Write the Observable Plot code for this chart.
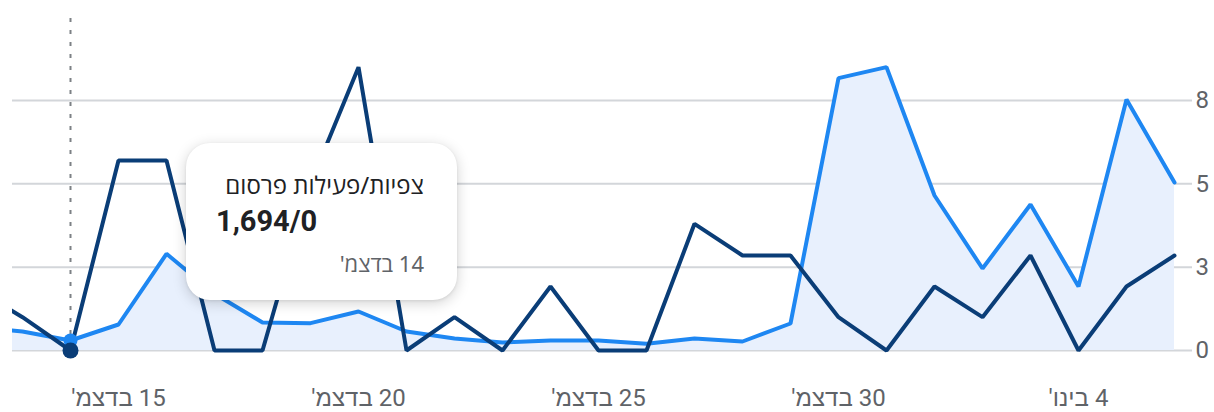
<!DOCTYPE html>
<html>
<head>
<meta charset="utf-8">
<script src="https://cdn.jsdelivr.net/npm/d3@7"></script>
<script src="https://cdn.jsdelivr.net/npm/@observablehq/plot@0.6"></script>
<style>
  html, body { margin: 0; padding: 0; background: #fff; }
  #wrap { position: relative; width: 1214px; height: 412px; overflow: hidden; }
  #wrap svg { background: linear-gradient(#e3e5e8, #e3e5e8) no-repeat 11px 0 / 2px 100%; }
  g[aria-label="x-axis tick label"] text { direction: rtl; unicode-bidi: embed; }
  .tip {
    position: absolute; box-sizing: border-box; background: #fff;
    border-radius: 24px; box-shadow: 0 3px 14px rgba(0,0,0,0.18), 0 1px 3px rgba(0,0,0,0.08);
    padding: 28px 33px 0 30px; direction: rtl;
    font-family: "Noto Sans", "Open Sans", Roboto, "Liberation Sans", sans-serif;
  }
  .tip .t { font-size: 24px; color: #202124; line-height: 28px; white-space: nowrap; }
  .tip .v { font-size: 29px; font-weight: 700; color: #202124; direction: ltr; text-align: left; line-height: 36px; margin-top: 4px; font-family: Roboto, "Noto Sans", sans-serif; }
  .tip .d { font-size: 22px; color: #5f6368; line-height: 28px; margin-top: 10px; }
</style>
</head>
<body>
<div id="wrap"></div>
<script>
const dates = ["2023-12-12","2023-12-13","2023-12-14","2023-12-15","2023-12-16","2023-12-17","2023-12-18","2023-12-19","2023-12-20","2023-12-21","2023-12-22","2023-12-23","2023-12-24","2023-12-25","2023-12-26","2023-12-27","2023-12-28","2023-12-29","2023-12-30","2023-12-31","2024-01-01","2024-01-02","2024-01-03","2024-01-04","2024-01-05","2024-01-06"];
const views = [0.72,0.57,0.3,0.78,2.9,1.7,0.84,0.82,1.17,0.57,0.36,0.24,0.3,0.3,0.2,0.36,0.27,0.81,8.17,8.5,4.65,2.46,4.38,1.92,7.53,5.04];
const activity = [1.86,1.0,0,5.7,5.7,0,0,5.0,8.5,0,1.0,0,1.92,0,0,3.8,2.85,2.85,1.0,0,1.92,1.0,2.85,0,1.92,2.85];
const xTickDates = ["2023-12-15","2023-12-20","2023-12-25","2023-12-30","2024-01-04"];
const xTickLabels = ["15 בדצמ'","20 בדצמ'","25 בדצמ'","30 בדצמ'","4 בינו'"];
const yTicks = [0, 2.5, 5, 7.5];
const yTickLabels = ["0","3","5","8"];
const focusDate = "2023-12-14";
const tipTitle = "צפיות/פעילות פרסום";
const tipValue = "1,694/0";
const tipDate = "14 בדצמ'";

const parse = d3.utcParse("%Y-%m-%d");
const data = dates.map((d, i) => ({date: parse(d), views: views[i], activity: activity[i]}));
const xTicks = xTickDates.map(parse);
const focus = data.find(d => +d.date === +parse(focusDate));

const blue = "#1e87f2";
const navy = "#0a3d77";

const plot = Plot.plot({
  width: 1214,
  height: 412,
  marginLeft: 12,
  marginRight: 22,
  marginTop: 18,
  marginBottom: 58,
  style: {fontFamily: "Roboto, 'Liberation Sans', sans-serif", background: "transparent"},
  x: {type: "utc", domain: [parse("2023-12-13"), parse("2024-01-06")], range: [22, 1174]},
  y: {domain: [0, 7.5], range: [350, 100]},
  marks: [
    Plot.gridY(yTicks, {stroke: "#d3d6da", strokeOpacity: 1, strokeWidth: 2}),
    Plot.areaY(data, {x: "date", y: "views", fill: "#e8f0fd", clip: true}),
    Plot.ruleX([focus.date], {stroke: "#7d8185", strokeWidth: 2, strokeDasharray: "4,8"}),
    Plot.lineY(data, {x: "date", y: "views", stroke: blue, strokeWidth: 4, strokeLinejoin: "miter", clip: true}),
    Plot.lineY(data, {x: "date", y: "activity", stroke: navy, strokeWidth: 4, strokeLinejoin: "miter", clip: true}),
    Plot.dot([focus], {x: "date", y: "views", r: 7, fill: blue, stroke: null}),
    Plot.dot([focus], {x: "date", y: "activity", r: 8, fill: navy, stroke: null}),
    Plot.axisY(yTicks, {anchor: "right", tickSize: 0, tickPadding: 3, fontSize: 24, fill: "#5f6368",
      tickFormat: (d) => yTickLabels[yTicks.indexOf(d)]}),
    Plot.axisX(xTicks, {anchor: "bottom", tickSize: 0, tickPadding: 34, fontSize: 24, fill: "#5f6368",
      tickFormat: (d) => xTickLabels[xTicks.findIndex(t => +t === +d)]})
  ]
});

const wrap = document.getElementById("wrap");
wrap.appendChild(plot);

const xs = plot.scale("x"), ys = plot.scale("y");
const px = xs.apply(focus.date), py = ys.apply(0);
const tip = document.createElement("div");
tip.className = "tip";
tip.style.left = (px + 116) + "px";
tip.style.top = (py - 207) + "px";
tip.style.width = "271px";
tip.style.height = "157px";
tip.innerHTML = `<div class="t"></div><div class="v"></div><div class="d"></div>`;
tip.querySelector(".t").textContent = tipTitle;
tip.querySelector(".v").textContent = tipValue;
tip.querySelector(".d").textContent = tipDate;
wrap.appendChild(tip);
</script>
</body>
</html>
